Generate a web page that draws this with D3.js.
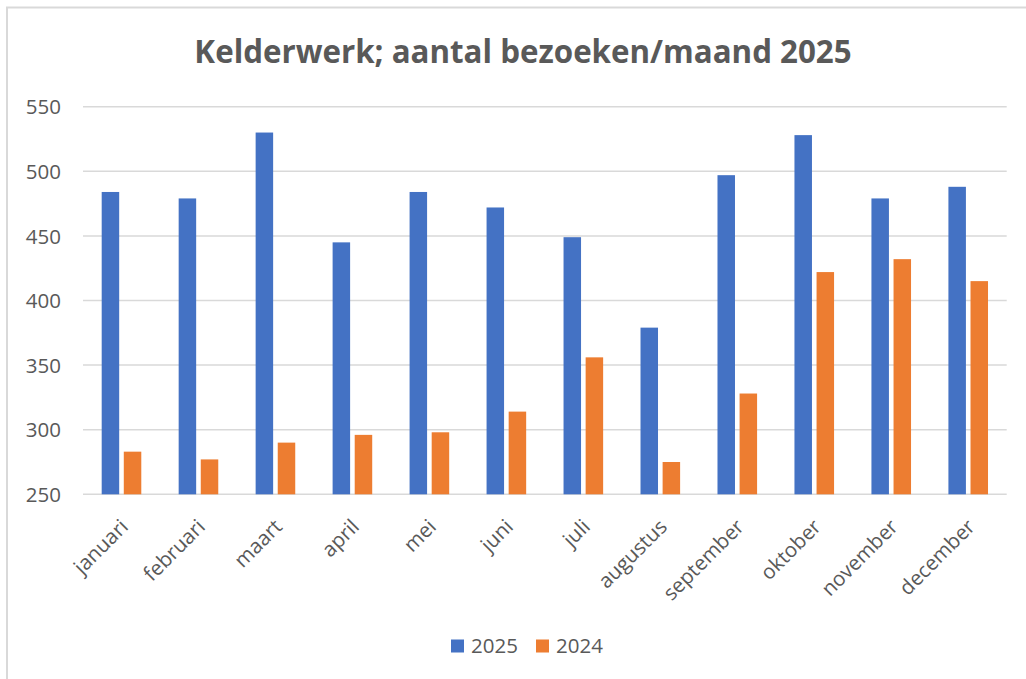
<!DOCTYPE html>
<html>
<head>
<meta charset="utf-8">
<script src="https://cdn.jsdelivr.net/npm/d3@7"></script>
<style>
  html, body { margin: 0; padding: 0; background: #fff; }
  svg { display: block; }
  text { font-family: "Open Sans", "Noto Sans", sans-serif; fill: #595959; }
</style>
</head>
<body>
<script>
const categories = ["januari","februari","maart","april","mei","juni","juli","augustus","september","oktober","november","december"];
const values2025 = [484, 479, 530, 445, 484, 472, 449, 379, 497, 528, 479, 488];
const values2024 = [283, 277, 290, 296, 298, 314, 356, 275, 328, 422, 432, 415];
const seriesNames = ["2025", "2024"];
const yTicks = [250, 300, 350, 400, 450, 500, 550];
const title = "Kelderwerk; aantal bezoeken/maand 2025";

const W = 1026, H = 679;
const colors = { "2025": "#4472C4", "2024": "#ED7D31" };

const svg = d3.select("body").append("svg").attr("width", W).attr("height", H);

// chart border
svg.append("rect").attr("x", 7).attr("y", 7.5).attr("width", W + 10).attr("height", H + 10)
  .attr("fill", "#fff").attr("stroke", "#d9d9d9").attr("stroke-width", 2);

// title
svg.append("text").attr("x", 523).attr("y", 63).attr("text-anchor", "middle")
  .attr("font-size", 31.3).attr("font-weight", "bold").text(title);

const x = d3.scaleBand().domain(categories).range([83, 1006.7]).paddingInner(0).paddingOuter(0);
const y = d3.scaleLinear().domain([250, 550]).range([494.3, 106.7]);

// gridlines
svg.append("g").selectAll("line").data(yTicks).join("line")
  .attr("x1", 83).attr("x2", 1006.7)
  .attr("y1", d => y(d)).attr("y2", d => y(d))
  .attr("stroke", "#d9d9d9").attr("stroke-width", 1.5);

// y axis labels
const yAxis = d3.axisLeft(y).tickValues(yTicks).tickSize(0).tickPadding(0);
const gy = svg.append("g").attr("transform", "translate(61,0)").call(yAxis);
gy.select(".domain").remove();
gy.selectAll("text").attr("font-size", 20.5).attr("fill", "#595959")
  .style("font-family", '"Open Sans", sans-serif').attr("dy", "0.35em");

// bars
const barW = 17.5, gap = 4.6;
const sub = d3.scaleOrdinal().domain(seriesNames).range([-(barW + gap / 2), gap / 2]);
const data = [];
categories.forEach((c, i) => {
  data.push({ cat: c, s: "2025", v: values2025[i] });
  data.push({ cat: c, s: "2024", v: values2024[i] });
});
svg.append("g").selectAll("rect").data(data).join("rect")
  .attr("x", d => x(d.cat) + x.bandwidth() / 2 + sub(d.s))
  .attr("width", barW)
  .attr("y", d => y(d.v))
  .attr("height", d => y(250) - y(d.v))
  .attr("fill", d => colors[d.s]);

// x axis labels
const xAxis = d3.axisBottom(x).tickSize(0).tickPadding(0);
const gx = svg.append("g").call(xAxis);
gx.select(".domain").remove();
gx.selectAll(".tick").attr("transform", d => `translate(${x(d) + x.bandwidth() / 2},0)`);
gx.selectAll("text")
  .attr("y", 0).attr("dy", 0)
  .attr("text-anchor", "end")
  .attr("font-size", 20.5).attr("fill", "#595959")
  .style("font-family", '"Open Sans", sans-serif')
  .attr("transform", "translate(8,528) rotate(-45)");

// legend
const lg = svg.append("g");
const legendPos = [{ s: "2025", x: 451 }, { s: "2024", x: 536 }];
legendPos.forEach(p => {
  lg.append("rect").attr("x", p.x).attr("y", 639.5).attr("width", 13).attr("height", 13).attr("fill", colors[p.s]);
  lg.append("text").attr("x", p.x + 20).attr("y", 653).attr("font-size", 20.5).text(p.s);
});
</script>
</body>
</html>
